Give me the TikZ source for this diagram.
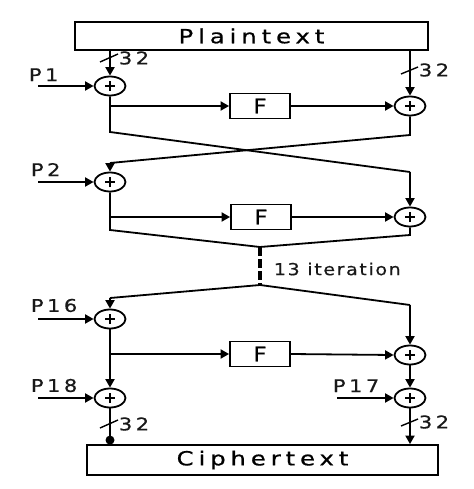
\documentclass[tikz,border=0pt]{standalone}
\usepackage{fontspec}
\setmainfont{DejaVu Sans}
\newfontfamily\wide[LetterSpace=25,FakeStretch=1.25,FakeBold=0.6]{DejaVu Sans}
\newfontfamily\lblfont[LetterSpace=20,FakeStretch=1.2,FakeBold=0.5]{DejaVu Sans}
\newfontfamily\midwide[LetterSpace=10,FakeStretch=1.15,FakeBold=0.5]{DejaVu Sans}
\usetikzlibrary{arrows.meta,shapes.geometric}
\begin{document}
\begin{tikzpicture}[x=1pt,y=-1pt,
  line width=1.8pt,
  arr/.style={-{Triangle[length=8.5pt,width=9pt]}},
  xorop/.style={draw,ellipse,minimum width=31pt,minimum height=19pt,inner sep=0pt,
    path picture={\draw[line width=1.2pt] ([xshift=-5pt]path picture bounding box.center) -- ([xshift=5pt]path picture bounding box.center)
      ([yshift=-5pt]path picture bounding box.center) -- ([yshift=5pt]path picture bounding box.center);}},
  fbox/.style={draw,rectangle,minimum width=60pt,minimum height=25pt,inner sep=0pt,font=\fontsize{20}{20}\selectfont\midwide},
  bigbox/.style={draw,rectangle,inner sep=0pt,font=\fontsize{19.5}{20}\selectfont\wide},
  lbl/.style={font=\fontsize{17.5}{17.5}\selectfont\lblfont,inner sep=0pt,text=black!90},
  tick/.style={line width=1.4pt}
]
\useasboundingbox (0,0) rectangle (473,489);
\fill[white] (0,0) rectangle (473,489);

% boxes
\node[bigbox,minimum width=353pt,minimum height=28pt] (plain) at (251.5,36) {Plaintext};
\node[bigbox,minimum width=351pt,minimum height=30pt] (cipher) at (262.5,460) {Ciphertext};

% xor nodes
\node[xorop] (x1) at (110,86) {};
\node[xorop] (xr1) at (410,106) {};
\node[xorop] (x2) at (110,182) {};
\node[xorop] (xr2) at (410,217) {};
\node[xorop] (x16) at (110,319) {};
\node[xorop] (xr3) at (410,355) {};
\node[xorop] (x18) at (110,398) {};
\node[xorop] (x17) at (410,398) {};

% F boxes
\node[fbox] (f1) at (260,106) {F};
\node[fbox] (f2) at (261,217) {F};
\node[fbox] (f3) at (260,354) {F};

% labels
\node[lbl,anchor=south west] (lp1) at (28,82) {P1};
\node[lbl,anchor=south west] (lp2) at (30,177) {P2};
\node[lbl,anchor=south west] (lp16) at (30,313) {P16};
\node[lbl,anchor=south west] (lp18) at (30,393) {P18};
\node[lbl,anchor=south west] (lp17) at (332,393) {P17};
\node[lbl,anchor=west,font=\fontsize{16.5}{17}\selectfont\midwide] (iter) at (273,269) {13 iteration};
\node[lbl,anchor=west] (n32a) at (118,58) {32};
\node[lbl,anchor=west] (n32b) at (418,70) {32};
\node[lbl,anchor=west] (n32c) at (118,424) {32};
\node[lbl,anchor=west] (n32d) at (418,422) {32};

% coordinates
\coordinate (p1s) at (38,86);
\coordinate (p2s) at (38,182);
\coordinate (p16s) at (38,319);
\coordinate (p18s) at (38,398);
\coordinate (p17s) at (337,398);
\coordinate (c1a) at (110,132);
\coordinate (c1b) at (410,135);
\coordinate (c2a) at (110,163);
\coordinate (c2b) at (410,172);
\coordinate (m1a) at (110,230);
\coordinate (m1b) at (410,235);
\coordinate (m1) at (260,247);
\coordinate (m2) at (260,285);
\coordinate (s1a) at (110,298);
\coordinate (s1b) at (410,305);

% round 1
\draw[arr] (x1 |- plain.south) -- (x1.north);
\draw[arr] (xr1 |- plain.south) -- (xr1.north);
\draw[arr] (p1s) -- (x1.west);
\draw[arr] (x1 |- f1) -- (f1.west);
\draw[arr] (f1.east) -- (xr1.west);
\draw (x1.south) -- (c1a) -- (c2b);
\draw[arr] (c2b) -- (xr2.north);
\draw (xr1.south) -- (c1b) -- (c2a);
\draw[arr] (c2a) -- (x2.north);

% round 2
\draw[arr] (p2s) -- (x2.west);
\draw[arr] (x2 |- f2) -- (f2.west);
\draw[arr] (f2.east) -- (xr2.west);
\draw (x2.south) -- (m1a) -- (m1);
\draw (xr2.south) -- (m1b) -- (m1);
\draw[line width=3.5pt,dash pattern=on 9pt off 3pt] (m1) -- (m2);

% round 16
\draw (m2) -- (s1a);
\draw[arr] (s1a) -- (x16.north);
\draw (m2) -- (s1b);
\draw[arr] (s1b) -- (xr3.north);
\draw[arr] (p16s) -- (x16.west);
\draw[arr] (x16.south) -- (x18.north);
\draw[arr] (x16 |- f3) -- (f3.west);
\draw[arr] (f3.east) -- (xr3.west);
\draw[arr] (xr3.south) -- (x17.north);
\draw[arr] (p18s) -- (x18.west);
\draw[arr] (p17s) -- (x17.west);

% outputs
\draw (x18.south) -- (x18 |- cipher.north);
\fill (x18 |- cipher.north) ++(0,-4) circle (4.5pt);
\draw[arr] (x17.south) -- (x17 |- cipher.north);

% 32 ticks
\draw[tick] (100,62) -- (118,54);
\draw[tick] (401,74) -- (418,67);
\draw[tick] (100,428) -- (118,420);
\draw[tick] (401,426) -- (418,419);
\end{tikzpicture}
\end{document}
